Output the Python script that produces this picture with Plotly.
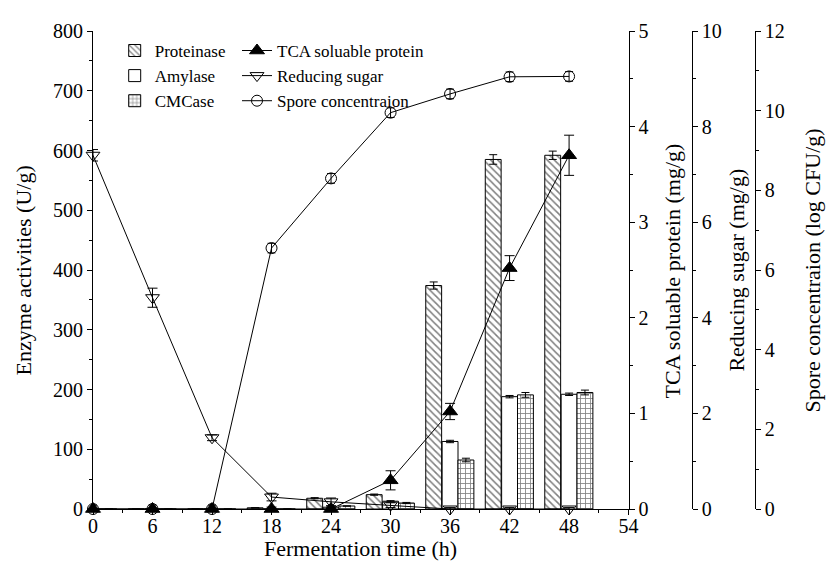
import plotly.graph_objects as go

time_h = [0, 6, 12, 18, 24, 30, 36, 42, 48]

proteinase = [0, 0, 0, 2, 18, 24, 374, 585, 592]
proteinase_err = [0, 0, 0, 0, 1, 1, 6, 8, 7]
amylase = [0, 0, 0, 0, 3, 13, 113, 188, 192]
amylase_err = [0, 0, 0, 0, 0, 1, 2, 2, 2]
cmcase = [0, 0, 0, 0, 5, 10, 82, 191, 195]
cmcase_err = [0, 0, 0, 0, 0, 1, 3, 4, 4]

tca_protein = [0, 0, 0, 0, 0, 0.30, 1.02, 2.52, 3.70]
tca_err = [0, 0, 0, 0.02, 0.02, 0.10, 0.085, 0.13, 0.21]
reducing_sugar = [7.4, 4.42, 1.49, 0.25, 0.15, 0.08, 0, 0, 0]
reducing_err = [0.12, 0.2, 0.06, 0.08, 0.08, 0.05, 0.03, 0.03, 0.03]
spore = [0, 0, 0, 6.55, 8.3, 9.95, 10.42, 10.85, 10.86]
spore_err = [0.1, 0.1, 0.1, 0.12, 0.12, 0.12, 0.12, 0.12, 0.12]

x_ticks = [0, 6, 12, 18, 24, 30, 36, 42, 48, 54]

FONT = "Liberation Serif"
BLACK = "black"

fig = go.Figure()

bar_specs = [
    ("Proteinase", proteinase, proteinase_err, -2.45, "\\"),
    ("Amylase", amylase, amylase_err, -0.8, ""),
    ("CMCase", cmcase, cmcase_err, 0.8, "+"),
]
for name, vals, errs, off, shape in bar_specs:
    fig.add_trace(go.Bar(
        x=time_h, y=vals, name=name, width=1.6, offset=off,
        marker=dict(color="white", line=dict(color=BLACK, width=1),
                    pattern=dict(shape=shape, fgcolor=BLACK, bgcolor="white",
                                 size=5, solidity=0.3)),
        error_y=dict(type="data", array=errs, color=BLACK, thickness=1, width=4),
        xaxis="x", yaxis="y", legend="legend",
    ))

fig.add_trace(go.Scatter(
    x=time_h, y=tca_protein, name="TCA soluable protein", mode="lines+markers",
    line=dict(color=BLACK, width=1),
    marker=dict(symbol="triangle-up", size=13, color=BLACK, line=dict(color=BLACK, width=1)),
    error_y=dict(type="data", array=tca_err, color=BLACK, thickness=1, width=5),
    xaxis="x", yaxis="y2", cliponaxis=False, legend="legend2",
))
fig.add_trace(go.Scatter(
    x=time_h, y=reducing_sugar, name="Reducing sugar", mode="lines+markers",
    line=dict(color=BLACK, width=1),
    marker=dict(symbol="triangle-down-open", size=12, color=BLACK, line=dict(color=BLACK, width=1)),
    error_y=dict(type="data", array=reducing_err, color=BLACK, thickness=1, width=5),
    xaxis="x", yaxis="y3", cliponaxis=False, legend="legend2",
))
fig.add_trace(go.Scatter(
    x=time_h, y=spore, name="Spore concentraion", mode="lines+markers",
    line=dict(color=BLACK, width=1),
    marker=dict(symbol="circle-open", size=11, color=BLACK, line=dict(color=BLACK, width=1)),
    error_y=dict(type="data", array=spore_err, color=BLACK, thickness=1, width=4),
    xaxis="x", yaxis="y4", cliponaxis=False, legend="legend2",
))

# page has an 8 px body margin: figure coordinates = page coordinates - 8
OFF = 8
W, H = 838 - OFF, 573 - OFF
L, T = 93 - OFF, 20 - OFF
B = H - (509 - OFF)
R = 12
PW = W - L - R
PH = H - T - B

def px_x(p):
    return (p - OFF - L) / PW

def px_y(p):
    return 1 - (p - OFF - T) / PH

tick_font = dict(family=FONT, size=20, color=BLACK)
common = dict(showgrid=False, zeroline=False, showline=True, linecolor=BLACK,
              linewidth=1, ticks="outside", tickcolor=BLACK, ticklen=5,
              tickwidth=1, tickfont=tick_font)
minor_common = dict(ticklen=3, ticks="outside", tickcolor=BLACK)

fig.update_layout(
    width=W, height=H,
    margin=dict(l=L, r=R, t=T, b=B),
    paper_bgcolor="white", plot_bgcolor="white",
    font=dict(family=FONT, color=BLACK),
    barmode="overlay",
    xaxis=dict(domain=[0, px_x(636)], range=[0, 54], tickvals=x_ticks,
               ticklabelstandoff=-6,
               minor=dict(dtick=3, **minor_common), anchor="y", **common),
    yaxis=dict(range=[0, 800], dtick=100, tick0=0,
               minor=dict(dtick=50, **minor_common), anchor="x", **common),
    yaxis2=dict(range=[0, 5], dtick=1, tick0=0, overlaying="y", side="right", anchor="x",
                minor=dict(dtick=0.5, **minor_common), **common),
    yaxis3=dict(range=[0, 10], dtick=2, tick0=0, overlaying="y", side="right",
                anchor="free", position=px_x(700),
                minor=dict(dtick=1, **minor_common), **common),
    yaxis4=dict(range=[0, 12], dtick=2, tick0=0, overlaying="y", side="right",
                anchor="free", position=px_x(764),
                minor=dict(dtick=1, **minor_common), **common),
    legend=dict(x=px_x(115), y=px_y(22), xanchor="left", yanchor="top",
                bgcolor="rgba(0,0,0,0)", font=dict(family=FONT, size=17, color=BLACK),
                tracegroupgap=0),
    legend2=dict(x=px_x(239), y=px_y(22), xanchor="left", yanchor="top",
                 bgcolor="rgba(0,0,0,0)", font=dict(family=FONT, size=17, color=BLACK),
                 tracegroupgap=0),
    showlegend=True,
)

title_font = dict(family=FONT, size=22, color=BLACK)
annos = [
    dict(text="Enzyme activities (U/g)", x=px_x(23), y=px_y(265), textangle=-90),
    dict(text="Fermentation time (h)", x=px_x(364), y=px_y(549), textangle=0),
    dict(text="TCA soluable protein (mg/g)", x=px_x(681), y=px_y(265), textangle=-90),
    dict(text="Reducing sugar (mg/g)", x=px_x(745), y=px_y(265), textangle=-90),
    dict(text="Spore concentraion (log CFU/g)", x=px_x(822), y=px_y(265), textangle=-90),
]
for a in annos:
    fig.add_annotation(xref="paper", yref="paper", showarrow=False,
                       xanchor="center", yanchor="middle", font=title_font, **a)

fig.write_html("out.html")
